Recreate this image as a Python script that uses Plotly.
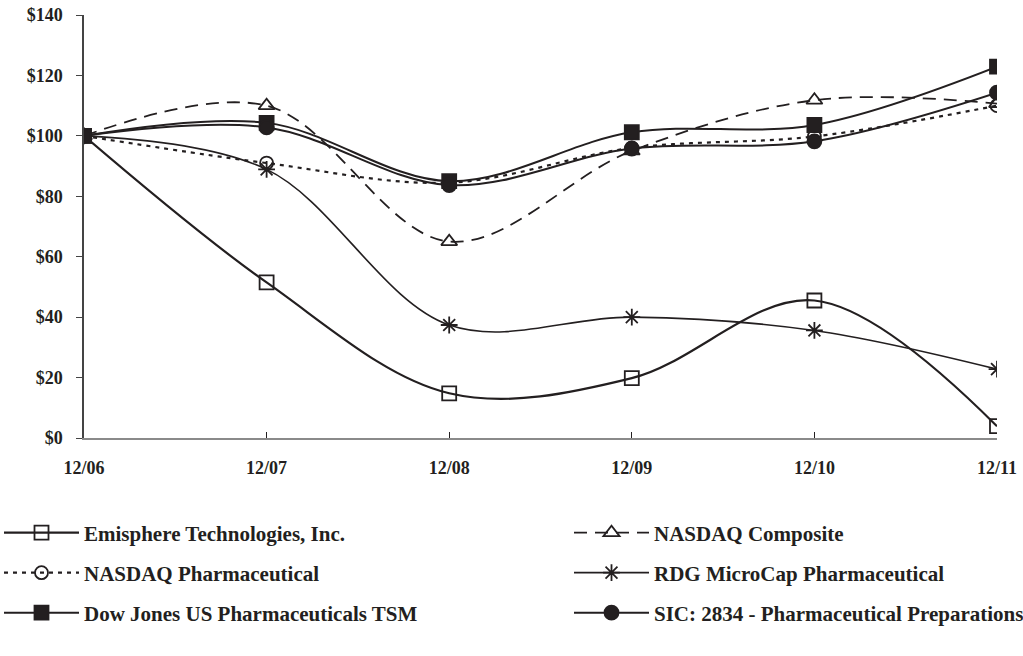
import plotly.graph_objects as go

periods = ["12/06", "12/07", "12/08", "12/09", "12/10", "12/11"]
y_ticks = [0, 20, 40, 60, 80, 100, 120, 140]
y_tick_labels = ["$0", "$20", "$40", "$60", "$80", "$100", "$120", "$140"]

emisphere = [100, 51.5, 14.8, 19.8, 45.5, 3.9]
nasdaq_composite = [100, 110.0, 65.0, 95.0, 111.8, 110.7]
nasdaq_pharma = [100, 91.0, 84.5, 96.0, 99.8, 110.0]
rdg_microcap = [100, 88.9, 37.4, 40.0, 35.6, 22.8]
dow_jones_pharma = [100, 104.3, 85.0, 101.2, 103.6, 122.9]
sic_2834 = [100, 102.8, 83.7, 95.8, 98.2, 114.3]

INK = "#231f20"
FONT = "Liberation Serif"

# name, values, symbol, line style, marker size, legend id, legend column, legend row
series = [
    ("Emisphere Technologies, Inc.", emisphere, "square-open", dict(width=2.2), 14, "legend", 0, 0),
    ("NASDAQ Composite", nasdaq_composite, "triangle-up-open", dict(width=1.8, dash="13px,8px"), 14, "legend2", 1, 0),
    ("NASDAQ Pharmaceutical", nasdaq_pharma, "circle-open", dict(width=2.2, dash="4px,5px"), 13, "legend3", 0, 1),
    ("RDG MicroCap Pharmaceutical", rdg_microcap, "asterisk-open", dict(width=1.6), 14, "legend4", 1, 1),
    ("Dow Jones US Pharmaceuticals TSM", dow_jones_pharma, "square", dict(width=2.0), 14, "legend5", 0, 2),
    ("SIC: 2834 - Pharmaceutical Preparations", sic_2834, "circle", dict(width=2.0), 14, "legend6", 1, 2),
]

W, H = 1023, 656
L, T = 84, 15
R = W - 997
B = H - 438
pw, ph = W - L - R, H - T - B
col_px = [-1, 569]
row_px = [533, 573, 613]

fig = go.Figure()
legends = {}
for name, vals, sym, line, msize, leg, col, row in series:
    fig.add_trace(go.Scatter(
        x=periods, y=vals, name=name, mode="lines+markers",
        line=dict(color=INK, shape="spline", smoothing=1.0, **line),
        marker=dict(symbol=sym, size=msize, color=INK,
                    line=dict(color=INK, width=1.8)),
        legend=leg,
    ))
    legends[leg] = dict(
        x=(col_px[col] - L) / pw, xanchor="left",
        y=(H - B - row_px[row]) / ph, yanchor="middle",
        orientation="v",
        font=dict(family=FONT, size=21, color=INK, weight="bold"),
        itemwidth=75, bgcolor="rgba(0,0,0,0)",
    )

fig.update_layout(
    width=W, height=H,
    margin=dict(l=L, r=R, t=T, b=B, autoexpand=False),
    plot_bgcolor="white", paper_bgcolor="white",
    font=dict(family=FONT, size=18, color=INK, weight="bold"),
    showlegend=True,
    xaxis=dict(
        type="category", range=[0, 5], showgrid=False, zeroline=False,
        showline=True, linecolor="#8a8a8a", linewidth=2,
        ticks="inside", ticklen=6, tickcolor=INK, tickwidth=1,
        ticklabelstandoff=12, ticklabeloverflow="allow",
        tickfont=dict(family=FONT, size=18, color=INK, weight="bold"),
    ),
    yaxis=dict(
        range=[0, 140], tickvals=y_ticks, ticktext=y_tick_labels,
        showgrid=False, zeroline=False,
        showline=True, linecolor="#444444", linewidth=1.5,
        ticks="outside", ticklen=6, tickcolor="#444444", tickwidth=1,
        ticklabelstandoff=10, ticklabeloverflow="allow",
        tickfont=dict(family=FONT, size=18, color=INK, weight="bold"),
    ),
    **legends,
)

fig.write_html(
    "out.html",
    config={"displayModeBar": False},
    post_script="document.body.style.margin='0';"
                "document.documentElement.style.overflow='hidden';",
)
